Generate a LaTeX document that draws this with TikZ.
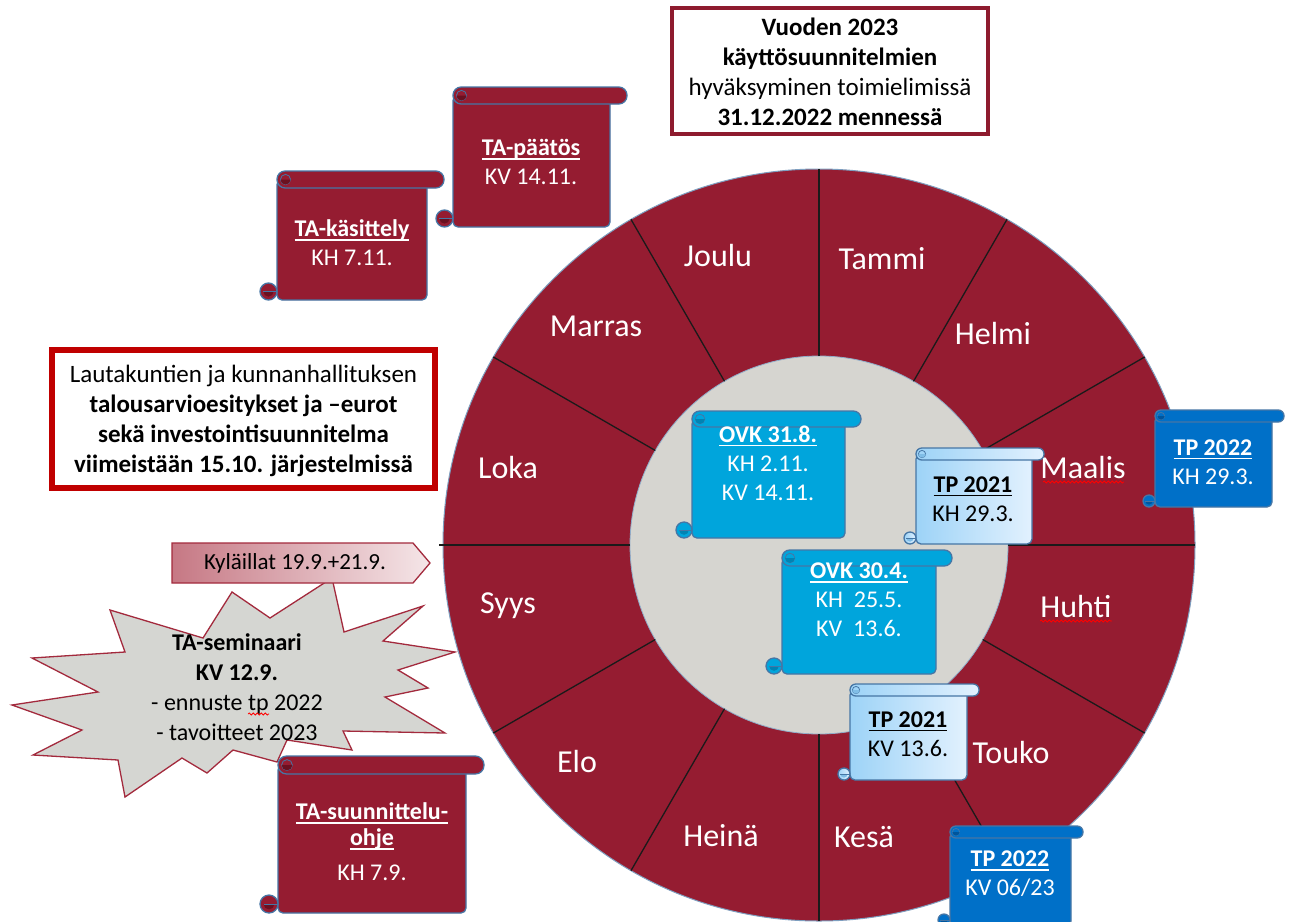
\documentclass[tikz,border=0pt]{standalone}
\usepackage{fontspec}
\setmainfont{Carlito}
\usetikzlibrary{calc,decorations.pathmorphing}
\definecolor{wine}{HTML}{951C31}
\definecolor{winedark}{HTML}{6A1020}
\definecolor{ovk}{HTML}{00A5DC}
\definecolor{ovkdark}{HTML}{0083B3}
\definecolor{tpb}{HTML}{0070C8}
\definecolor{tpbdark}{HTML}{00559C}
\definecolor{lbA}{HTML}{9DD3F7}
\definecolor{lbB}{HTML}{E2F1FE}
\definecolor{lbdark}{HTML}{80BDE6}
\definecolor{sline}{HTML}{4676A5}
\definecolor{innergray}{HTML}{D6D5D0}
\definecolor{topframe}{HTML}{8E1B2E}
\definecolor{leftframe}{HTML}{C00000}
\definecolor{stargray}{HTML}{D5D6D2}
\definecolor{starline}{HTML}{A32A3D}
\definecolor{arrA}{HTML}{C67884}
\definecolor{arrB}{HTML}{F5E6E8}
\definecolor{spoke}{HTML}{1A1A1A}
\newcommand\myul[1]{\setbox0\hbox{#1}\leavevmode\rlap{\rule[-4pt]{\wd0}{1.6pt}}\box0}
% x1 y1 x2 y2 w style dark
\newcommand\scrollat[7]{%
  \pgfmathsetmacro\myrr{0.48*#5}%
  \pgfmathsetmacro\myhw{0.5*#5}%
  \pgfmathsetmacro\mysr{0.3*#5}%
  \path[#6, draw=sline, line width=1.3pt, rounded corners=5pt]
    (#1,{#2+\myhw}) rectangle (#3,#4);
  \path[#6, draw=sline, line width=1.3pt]
    ({#1-\myhw},{#4-\myhw}) circle[radius=\myhw pt];
  \path[fill=#7] ({#1-\myhw-\mysr},{#4-\myhw}) arc[start angle=180, end angle=360, radius=\mysr pt] -- cycle;
  \draw[sline, line width=0.8pt] ({#1-\myhw-\mysr},{#4-\myhw}) -- (#1,{#4-\myhw});
  \path[#6, draw=sline, line width=1.3pt, rounded corners=\myrr pt]
    (#1,#2) rectangle ({#3+#5},{#2+#5});
  \draw[sline, line width=0.8pt] ({#1+\myhw},{#2+\myhw}) circle[radius=\mysr pt];
  \path[fill=#7] ({#1+\myhw-\mysr},{#2+\myhw}) arc[start angle=180, end angle=360, radius=\mysr pt] -- cycle;
}
\tikzset{
  redS/.style={fill=wine},
  ovkS/.style={fill=ovk},
  tpS/.style={fill=tpb},
  lightS/.style={left color=lbA, right color=lbB},
  stext/.style={font=\fontsize{24}{29}\selectfont, align=center, inner sep=0pt},
  month/.style={font=\fontsize{32}{38}\selectfont, text=white, inner sep=0pt},
  boxtext/.style={font=\fontsize{25}{30}\selectfont, align=center, inner sep=0pt},
  squig/.style={red, line width=0.8pt, decorate, decoration={snake, amplitude=1pt, segment length=4pt}}
}
\begin{document}
\begin{tikzpicture}[x=1pt,y=-1pt]
\useasboundingbox (0,0) rectangle (1289,921);
\clip (0,0) rectangle (1289,921);
\fill[white] (0,0) rectangle (1289,921);

% wheel
\coordinate (c) at (819,545);
\path[fill=wine, draw=sline!70, line width=1pt] (c) circle[radius=376pt];
\path[fill=innergray, draw=sline!60, line width=0.8pt] (c) circle[radius=189pt];
\foreach \a in {0,30,...,330} {
  \draw[spoke, line width=1.3pt] ($(c)+(\a:189pt)$) -- ($(c)+(\a:376pt)$);
}
\draw[spoke, line width=1.3pt] ($(c)+(180:376pt)$) -- ($(c)+(180:380pt)$);

% months
\node[month] (tammi)  at (882,259) {Tammi};
\node[month] (helmi)  at (993,333) {Helmi};
\node[month] (maalis) at (1083,467) {Maalis};
\node[month] (huhti)  at (1076,606) {Huhti};
\node[month] (touko)  at (1011,752) {Touko};
\node[month] (kesa)   at (864,837) {Kesä};
\node[month] (heina)  at (721,836) {Heinä};
\node[month] (elo)    at (577,761) {Elo};
\node[month] (syys)   at (508,606) {Syys};
\node[month] (loka)   at (508,467) {Loka};
\node[month] (marras) at (596,326) {Marras};
\node[month] (joulu)  at (718,256) {Joulu};
\draw[squig] (1043,482) -- (1124,482);
\draw[squig] (1040,621) -- (1112,621);

% top box
\node[draw=topframe, line width=4.5pt, minimum width=316pt, minimum height=126pt, inner sep=0pt] (topbox) at (830,71) {};
\node[boxtext] (toptext) at (830,72) {\textbf{Vuoden 2023}\\\textbf{käyttösuunnitelmien}\\hyväksyminen toimielimissä\\\textbf{31.12.2022 mennessä}};

% left box
\node[draw=leftframe, line width=6pt, minimum width=383pt, minimum height=138pt, inner sep=0pt] (leftbox) at (243.5,419) {};
\node[boxtext] (lefttext) at (243.5,421) {Lautakuntien ja kunnanhallituksen\\\textbf{talousarvioesitykset ja –eurot}\\\textbf{sekä investointisuunnitelma}\\\textbf{viimeistään 15.10. järjestelmissä}};

% star
\path[fill=stargray, draw=starline, line width=1.3pt]
  (110,610) -- (203,638) -- (232,592) -- (270,618) -- (332,578) -- (344,632)
  -- (423,606) -- (383,641) -- (455,652) -- (398,670) -- (428,688) -- (385,697)
  -- (445,733) -- (343,731) -- (352,750) -- (287,740) -- (277,762) -- (233,750)
  -- (207,773) -- (182,758) -- (125,797) -- (118,760) -- (33,755) -- (82,730)
  -- (12,705) -- (98,692) -- (32,658) -- (125,652) -- cycle;
\node[stext, font=\fontsize{24}{30}\selectfont] (startext) at (237,687) {\textbf{TA-seminaari}\\\textbf{KV 12.9.}\\- ennuste tp 2022\\- tavoitteet 2023};
\draw[squig] (248,714) -- (269,714);

% arrow
\path[left color=arrA, right color=arrB, draw=starline, line width=1.3pt]
  (172,543) -- (413,543) -- (430,563) -- (413,583) -- (172,583) -- cycle;
\node[stext, font=\fontsize{23}{28}\selectfont] (kyla) at (295,563) {Kyläillat 19.9.+21.9.};

% scrolls
\scrollat{277}{171}{427}{300}{17}{redS}{winedark}
\node[stext, text=white] (kasittely) at (352,243) {\myul{\textbf{TA-käsittely}}\\KH 7.11.};

\scrollat{453}{87}{610}{227}{17}{redS}{winedark}
\node[stext, text=white] (paatos) at (531,162) {\myul{\textbf{TA-päätös}}\\KV 14.11.};

\scrollat{278}{756}{466}{913}{18}{redS}{winedark}
\node[stext, text=white, font=\fontsize{24}{26}\selectfont] (suunn) at (372,842) {\myul{\textbf{TA-suunnittelu-}}\\\myul{\textbf{ohje}}\\[9pt]KH 7.9.};

\scrollat{692}{411}{845}{538}{16}{ovkS}{ovkdark}
\node[stext, text=white] (ovka) at (768,463) {\myul{\textbf{OVK 31.8.}}\\KH 2.11.\\KV 14.11.};

\scrollat{782}{550}{936}{674}{16}{ovkS}{ovkdark}
\node[stext, text=white] (ovkb) at (859,600) {\myul{\textbf{OVK 30.4.}}\\KH~ 25.5.\\KV~ 13.6.};

\scrollat{916}{448}{1032}{544}{12}{lightS}{lbdark}
\node[stext, text=black] (tpa) at (973,499) {\myul{\textbf{TP 2021}}\\KH 29.3.};

\scrollat{850}{684}{967}{780}{12}{lightS}{lbdark}
\node[stext, text=black] (tpb) at (908,734) {\myul{\textbf{TP 2021}}\\KV 13.6.};

\scrollat{1155}{410}{1272}{507}{12}{tpS}{tpbdark}
\node[stext, text=white] (tpc) at (1213,462) {\myul{\textbf{TP 2022}}\\KH 29.3.};

\scrollat{950}{826}{1071}{926}{12}{tpS}{tpbdark}
\node[stext, text=white] (tpd) at (1010,874) {\myul{\textbf{TP 2022}}\\KV 06/23};
\end{tikzpicture}
\end{document}
